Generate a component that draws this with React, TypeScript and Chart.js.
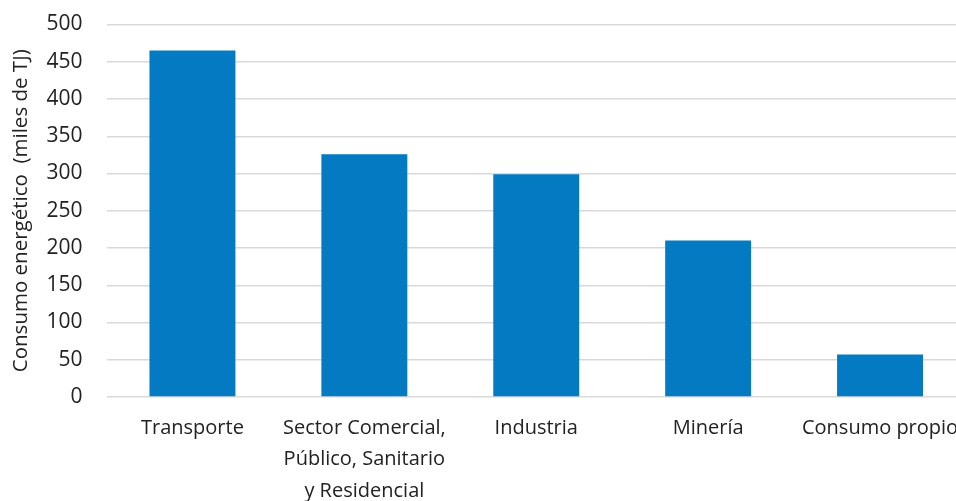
import React, { useEffect, useRef } from "react";
import { Chart, registerables } from "chart.js";

Chart.register(...registerables);

const categories: (string | string[])[] = [
  "Transporte",
  ["Sector Comercial,", "Público, Sanitario", "y Residencial"],
  "Industria",
  "Minería",
  "Consumo propio",
];
const consumo: number[] = [465, 326, 299, 210, 57];
const yTitle = "Consumo energético  (miles de TJ)";

const FONT = "'Open Sans', 'Noto Sans', sans-serif";
const TEXT = "#222222";
const GRID = "#d9d9d9";
const BAR = "#037AC1";

export default function App() {
  const ref = useRef<HTMLCanvasElement | null>(null);
  useEffect(() => {
    if (!ref.current) return;
    const chart = new Chart(ref.current, {
      type: "bar",
      data: {
        labels: categories,
        datasets: [
          {
            data: consumo,
            backgroundColor: BAR,
            borderWidth: 0,
            barPercentage: 0.5,
            categoryPercentage: 1,
          },
        ],
      },
      options: {
        animation: false,
        responsive: false,
        devicePixelRatio: 1,
        layout: { padding: { top: 24.5, right: 0, left: 0, bottom: 0 } },
        plugins: { legend: { display: false }, tooltip: { enabled: false } },
        scales: {
          x: {
            grid: { display: false, drawTicks: false },
            border: { display: false },
            ticks: {
              color: TEXT,
              font: { family: FONT, size: 20, lineHeight: 1.59 },
              padding: 15,
              maxRotation: 0,
              autoSkip: false,
            },
            afterFit: (s: any) => {
              s.height = 104;
              s.paddingLeft = 0;
              s.paddingRight = 0;
            },
          },
          y: {
            min: 0,
            max: 500,
            grid: { color: GRID, lineWidth: 1.5, drawTicks: false },
            border: { display: false },
            ticks: {
              stepSize: 50,
              color: TEXT,
              font: { family: FONT, size: 21 },
              padding: 24,
            },
            title: {
              display: true,
              text: yTitle,
              color: TEXT,
              font: { family: FONT, size: 20.5 },
              padding: { top: 9, bottom: 0 },
            },
            afterFit: (s: any) => {
              s.width = 106.5;
              s.paddingTop = 0;
              s.paddingBottom = 0;
            },
          },
        },
      },
    });
    return () => chart.destroy();
  }, []);
  return (
    <div
      style={{
        position: "absolute",
        left: 0,
        top: 0,
        width: 956,
        height: 501,
        overflow: "hidden",
        background: "#fff",
      }}
    >
      <canvas ref={ref} width={966} height={501} style={{ display: "block" }} />
    </div>
  );
}
